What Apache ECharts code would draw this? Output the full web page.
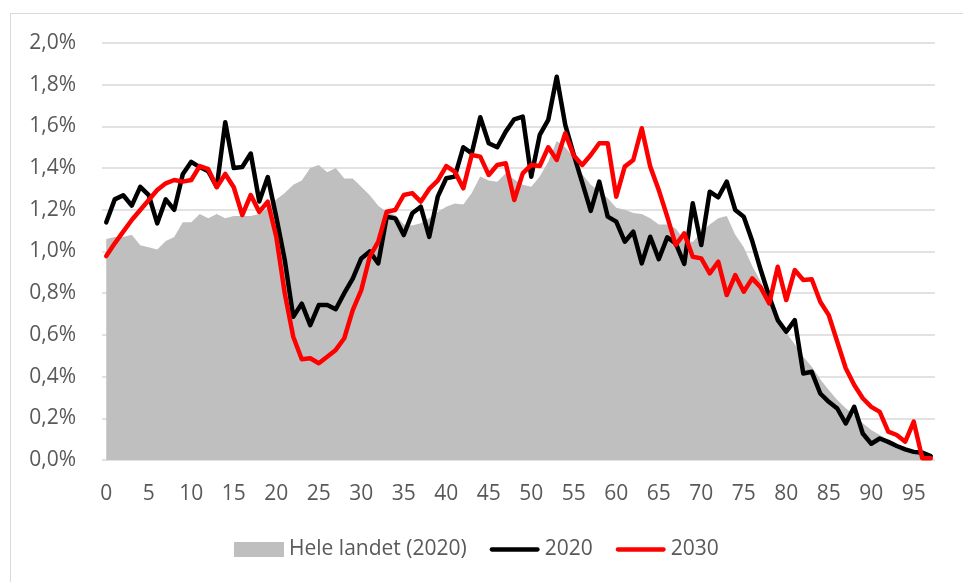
<!DOCTYPE html>
<html>
<head>
<meta charset="utf-8">
<script src="https://cdn.jsdelivr.net/npm/echarts@6/dist/echarts.min.js"></script>
<style>
html,body{margin:0;padding:0;background:#fff;}
#chart{width:963px;height:582px;}
</style>
</head>
<body>
<div id="chart"></div>
<script>
// Ages 0..97
var categories = [];
for (var a = 0; a <= 97; a++) categories.push(String(a));

var yTicks = [0, 0.2, 0.4, 0.6, 0.8, 1.0, 1.2, 1.4, 1.6, 1.8, 2.0];

var heleLandet2020 = [
1.06,1.07,1.07,1.08,1.03,1.02,1.01,1.05,1.07,1.14,
1.14,1.18,1.16,1.18,1.16,1.17,1.17,1.17,1.18,1.21,
1.25,1.28,1.32,1.34,1.40,1.415,1.38,1.40,1.35,1.35,
1.31,1.27,1.22,1.19,1.175,1.13,1.125,1.135,1.16,1.19,
1.215,1.23,1.225,1.28,1.36,1.34,1.335,1.375,1.345,1.32,
1.31,1.36,1.43,1.53,1.50,1.45,1.37,1.32,1.29,1.255,
1.21,1.20,1.185,1.18,1.16,1.13,1.13,1.11,1.055,1.045,
1.09,1.13,1.16,1.17,1.08,1.02,0.93,0.855,0.77,0.68,
0.61,0.555,0.495,0.447,0.387,0.336,0.288,0.248,0.216,0.176,
0.144,0.12,0.096,0.075,0.056,0.04,0.027,0.016
];

var line2020 = [
1.14,1.25,1.27,1.22,1.31,1.27,1.135,1.25,1.20,1.37,
1.43,1.405,1.385,1.31,1.62,1.40,1.405,1.47,1.24,1.357,
1.167,0.96,0.687,0.75,0.647,0.743,0.743,0.723,0.80,0.87,
0.967,1.0,0.943,1.167,1.159,1.079,1.183,1.215,1.07,1.263,
1.351,1.359,1.50,1.471,1.644,1.519,1.50,1.575,1.634,1.647,
1.359,1.559,1.631,1.838,1.607,1.465,1.33,1.195,1.335,1.167,
1.143,1.047,1.095,0.943,1.071,0.963,1.068,1.039,0.94,1.231,
1.031,1.287,1.26,1.335,1.199,1.167,1.05,0.911,0.783,0.671,
0.615,0.671,0.415,0.423,0.319,0.279,0.247,0.175,0.255,0.127,
0.078,0.103,0.087,0.067,0.051,0.039,0.035,0.019
];

var line2030 = [
0.978,1.039,1.095,1.151,1.199,1.247,1.295,1.327,1.343,1.335,
1.343,1.41,1.395,1.308,1.372,1.308,1.175,1.271,1.19,1.239,
1.071,0.799,0.591,0.483,0.488,0.464,0.495,0.528,0.584,0.719,
0.815,0.975,1.047,1.191,1.199,1.271,1.28,1.239,1.30,1.34,
1.41,1.383,1.303,1.463,1.455,1.367,1.415,1.423,1.247,1.375,
1.415,1.41,1.50,1.439,1.567,1.46,1.415,1.463,1.519,1.519,
1.263,1.407,1.439,1.591,1.407,1.295,1.167,1.031,1.087,0.975,
0.967,0.895,0.951,0.791,0.887,0.807,0.871,0.827,0.751,0.927,
0.767,0.911,0.863,0.867,0.759,0.695,0.567,0.44,0.36,0.296,
0.255,0.231,0.136,0.12,0.088,0.184,0.008,0.008
];

var seriesNames = ['Hele landet (2020)', '2020', '2030'];

var chart = echarts.init(document.getElementById('chart'), null, {renderer: 'canvas'});
var fontFam = '"Open Sans", "Noto Sans", sans-serif';
var txtColor = '#595959';
var lineIcon = 'path://M2.25,0 L49.75,0 A2.25,2.25 0 0 1 49.75,4.5 L2.25,4.5 A2.25,2.25 0 0 1 2.25,0 Z';

chart.setOption({
  animation: false,
  backgroundColor: '#ffffff',
  graphic: [{
    type: 'rect',
    shape: {x: 10.5, y: 13.5, width: 1000, height: 1000},
    style: {fill: 'none', stroke: '#d9d9d9', lineWidth: 1},
    silent: true
  }],
  grid: {left: 102, right: 28, top: 43, bottom: 122, containLabel: false},
  legend: {
    left: 229,
    top: 534,
    itemWidth: 50,
    itemHeight: 15,
    itemGap: 23,
    symbolKeepAspect: true,
    textStyle: {fontFamily: fontFam, fontSize: 21, color: txtColor},
    data: [
      {name: seriesNames[0], icon: 'rect', itemStyle: {color: '#bfbfbf'}},
      {name: seriesNames[1], icon: lineIcon, itemStyle: {color: '#000000'}},
      {name: seriesNames[2], icon: lineIcon, itemStyle: {color: '#ff0000'}}
    ]
  },
  xAxis: {
    type: 'category',
    data: categories,
    boundaryGap: true,
    axisLine: {show: false},
    axisTick: {show: false},
    axisLabel: {
      interval: 4,
      margin: 24,
      fontFamily: fontFam, fontSize: 21, color: txtColor
    },
    splitLine: {show: false}
  },
  yAxis: {
    type: 'value',
    min: yTicks[0],
    max: yTicks[yTicks.length - 1],
    interval: 0.2,
    axisLine: {show: false},
    axisTick: {show: false},
    axisLabel: {
      margin: 26,
      fontFamily: fontFam, fontSize: 21, color: txtColor,
      formatter: function (v) { return v.toFixed(1).replace('.', ',') + '%'; }
    },
    splitLine: {show: true, lineStyle: {color: '#d9d9d9', width: 1.5}}
  },
  series: [
    {
      name: seriesNames[0],
      type: 'line',
      data: heleLandet2020,
      symbol: 'none',
      lineStyle: {width: 0, color: '#bfbfbf'},
      itemStyle: {color: '#bfbfbf'},
      areaStyle: {color: '#bfbfbf', opacity: 1},
      z: 1
    },
    {
      name: seriesNames[1],
      type: 'line',
      data: line2020,
      symbol: 'none',
      lineStyle: {width: 4.5, color: '#000000', cap: 'round', join: 'round'},
      itemStyle: {color: '#000000'},
      z: 2
    },
    {
      name: seriesNames[2],
      type: 'line',
      data: line2030,
      symbol: 'none',
      lineStyle: {width: 4.5, color: '#ff0000', cap: 'round', join: 'round'},
      itemStyle: {color: '#ff0000'},
      z: 3
    }
  ]
});
</script>
</body>
</html>
